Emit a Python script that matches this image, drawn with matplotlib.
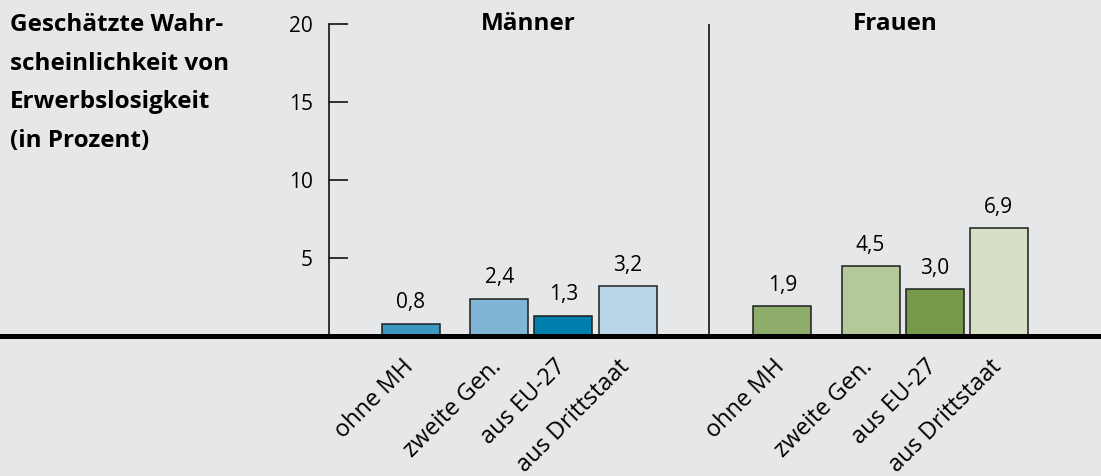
import numpy as np
import matplotlib
matplotlib.use('Agg')
import matplotlib.pyplot as plt

plt.rcParams['font.family'] = ['Open Sans', 'DejaVu Sans']

# data
categories = ['ohne MH', 'zweite Gen.', 'aus EU-27', 'aus Drittstaat']
groups = ['Männer', 'Frauen']
maenner = [0.8, 2.4, 1.3, 3.2]
frauen = [1.9, 4.5, 3.0, 6.9]
farben_m = ['#3d98c1', '#7fb5d5', '#0080ac', '#b9d5e8']
farben_f = ['#8fad6a', '#b4c899', '#76994a', '#d6e0c6']
title_lines = ['Geschätzte Wahr-', 'scheinlichkeit von', 'Erwerbslosigkeit', '(in Prozent)']
yticks = [5, 10, 15, 20]

bg = '#e6e7e9'
W, H = 1101, 476
fig = plt.figure(figsize=(W / 100, H / 100), dpi=100, facecolor=bg)
ax = fig.add_axes([0, (H - 336) / H, 1, (336 - 24) / H])
ax.set_facecolor(bg)

offsets = np.array([0, 1.38, 2.38, 3.385])
starts = [0, 5.8]
width = 58 / 64

for start, vals, cols in zip(starts, [maenner, frauen], [farben_m, farben_f]):
    xs = start + offsets
    ax.bar(xs, vals, width=width, color=cols, edgecolor='#1e1e1e', linewidth=1.1, zorder=2)
    for x, v in zip(xs, vals):
        ax.annotate(f'{v:.1f}'.replace('.', ','), (x, v), xytext=(0, 11),
                    textcoords='offset points', ha='center', va='baseline', fontsize=15)
    for x, c in zip(xs, categories):
        ax.annotate(c, (x, 0), xytext=(-7, -13.5), textcoords='offset points',
                    ha='right', va='top', rotation=45, rotation_mode='anchor', fontsize=17)

ax.set_xlim(-411 / 64, 690 / 64)
ax.set_ylim(0, 20)

# axis
ax.spines[['top', 'right', 'bottom']].set_visible(False)
ax.spines['left'].set_position(('data', -1.281))
ax.spines['left'].set_linewidth(1.1)
ax.set_yticks(yticks)
ax.set_yticklabels([str(t) for t in yticks])
ax.tick_params(axis='y', direction='in', length=13.7, width=1.1, pad=11.5, labelsize=15)
ax.set_xticks([])

ax.axhline(0, color='black', lw=3.6, zorder=3, clip_on=False)
ax.vlines(4.656, 0, 20, color='black', lw=1.1)

ax.text(1.836, 20, groups[0], ha='center', va='center', fontsize=17.5, fontweight='bold')
ax.text(7.57, 20, groups[1], ha='center', va='center', fontsize=17.5, fontweight='bold')

for i, line in enumerate(title_lines):
    fig.text(10 / W, 1 - (25 + i * 38.7) / H, line, ha='left', va='center',
             fontsize=17.5, fontweight='bold')

fig.savefig('out.png', dpi=100, facecolor=bg)
